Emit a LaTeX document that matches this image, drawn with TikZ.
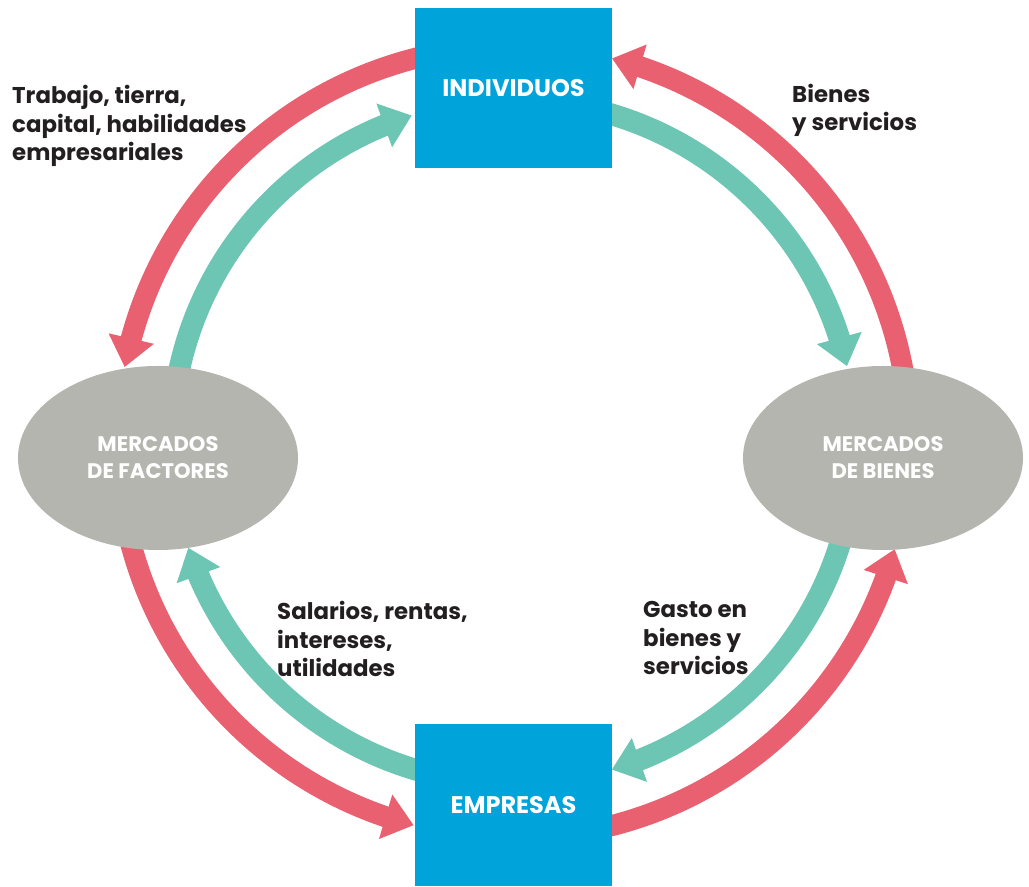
\documentclass[tikz,border=0pt]{standalone}
\usepackage{fontspec}
\setmainfont{Poppins}
\usetikzlibrary{arrows.meta,bending,shapes.geometric,calc}
\definecolor{boxblue}{RGB}{0,163,218}
\definecolor{flowred}{RGB}{233,96,112}
\definecolor{flowteal}{RGB}{108,198,179}
\definecolor{mktgray}{RGB}{179,181,174}
\definecolor{txtdark}{RGB}{35,31,32}
\begin{document}
\begin{tikzpicture}[x=0.03cm,y=0.03cm,
  agent/.style={rectangle,fill=boxblue,draw=none,minimum width=5.91cm,inner sep=0pt,
    text=white,font=\fontsize{20.5}{24}\selectfont\bfseries},
  market/.style={ellipse,fill=mktgray,draw=none,minimum width=8.4cm,minimum height=5.52cm,inner sep=0pt,
    text=white,align=center,font=\fontsize{18}{23}\selectfont\bfseries},
  redflow/.style={draw=flowred,line width=18pt,-{Triangle[width=38pt,length=25pt,flex]}},
  tealflow/.style={draw=flowteal,line width=18.5pt,-{Triangle[width=38pt,length=25pt,flex]}},
  lbl/.style={anchor=base west,align=left,inner sep=0pt,text=txtdark,
    font=\fontsize{19.5}{24.7}\selectfont\bfseries}]
\useasboundingbox (0,0) rectangle (1029,886);
\coordinate (c) at (513.5,444);
% flows (drawn first, nodes on top)
\draw[redflow]  ($(c)+(100:396)$) arc[start angle=100,end angle=169.1,radius=396];
\draw[tealflow] ($(c)+(172:342)$) arc[start angle=172,end angle=107.3,radius=342];
\draw[redflow]  ($(c)+(8:396)$) arc[start angle=8,end angle=75.6,radius=396];
\draw[tealflow] ($(c)+(78:342)$) arc[start angle=78,end angle=12.8,radius=342];
\draw[redflow]  ($(c)+(192:396)$) arc[start angle=192,end angle=255.4,radius=396];
\draw[tealflow] ($(c)+(262:342)$) arc[start angle=262,end angle=198,radius=342];
\draw[redflow]  ($(c)+(280:396)$) arc[start angle=280,end angle=344.3,radius=396];
\draw[tealflow] ($(c)+(345:342)$) arc[start angle=345,end angle=286.7,radius=342];
% nodes
\node[agent,minimum height=4.8cm] (ind) at (513.5,798) {INDIVIDUOS};
\node[agent,minimum height=4.86cm] (emp) at (513.5,81) {EMPRESAS};
\node[market] (mf) at (158,428) {MERCADOS\\DE FACTORES};
\node[market] (mb) at (883,428) {MERCADOS\\DE BIENES};
% labels (anchored at the baseline of the last line)
\node[lbl] (l1) at (12,725) {Trabajo, tierra,\\capital, habilidades\\empresariales};
\node[lbl] (l2) at (792,755) {Bienes\\y servicios};
\node[lbl] (l3) at (277,209) {Salarios, rentas,\\intereses,\\utilidades};
\node[lbl] (l4) at (643,211) {Gasto en\\bienes y\\servicios};
\end{tikzpicture}
\end{document}
